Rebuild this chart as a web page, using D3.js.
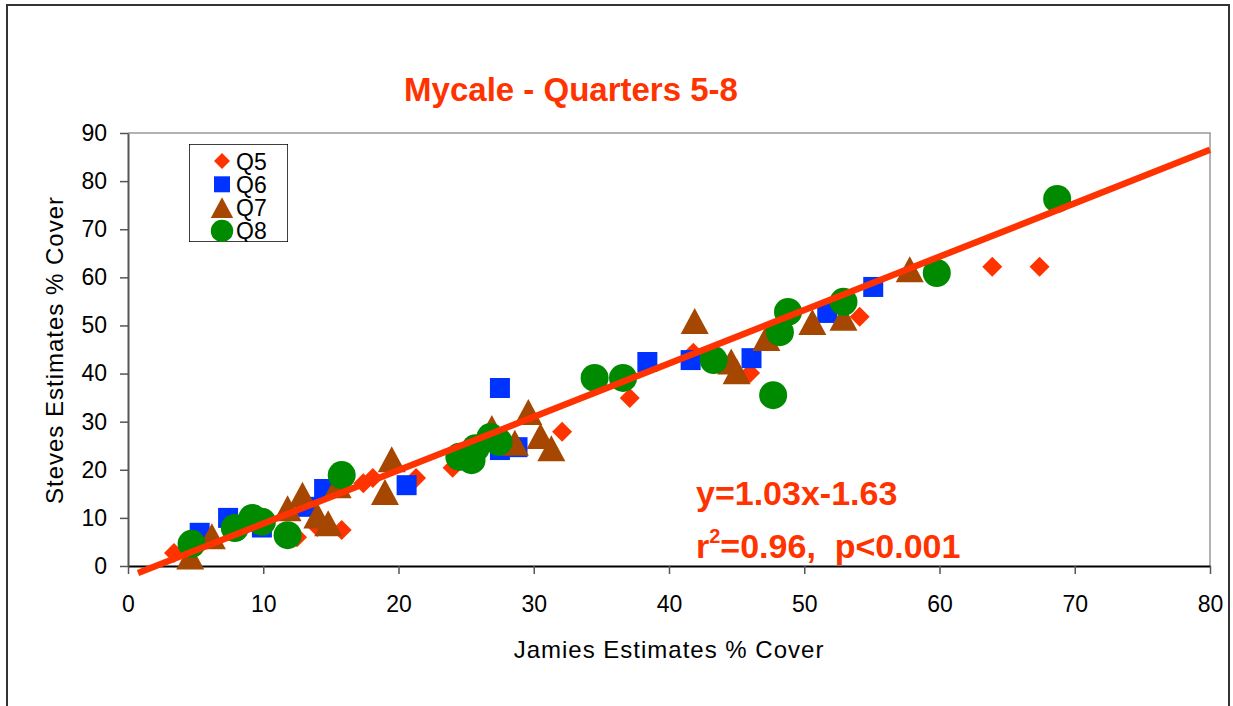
<!DOCTYPE html>
<html lang="en">
<head>
<meta charset="UTF-8">
<script src="https://cdn.jsdelivr.net/npm/d3@7/dist/d3.min.js"></script>
<style>
  body { margin: 0; background: #fff; }
  text { font-family: "Liberation Sans", Arial, sans-serif; }
</style>
</head>
<body>
<svg id="chart" width="1233" height="706"></svg>
<script>
// series (Jamies x, Steves y)
const q5X = [3.4, 12.5, 14.0, 15.8, 17.4, 18.1, 21.3, 24.0, 32.1, 37.1, 41.8, 46.0, 54.1, 63.9, 67.4];
const q5Y = [2.7, 6.0, 8.1, 7.5, 17.2, 18.3, 18.3, 20.4, 27.9, 34.9, 44.3, 40.1, 51.8, 62.2, 62.2];

const q6X = [5.3, 7.4, 9.9, 13.2, 14.5, 20.6, 27.5, 27.5, 28.8, 38.4, 41.6, 46.1, 51.7, 55.1];
const q6Y = [6.9, 10.0, 8.0, 12.3, 16.0, 16.8, 37.0, 24.1, 24.7, 42.4, 42.8, 43.2, 52.6, 58.0];

const q7X = [4.6, 6.2, 11.8, 12.9, 14.0, 14.8, 15.5, 19.0, 19.5, 26.9, 28.6, 29.6, 30.5, 31.3, 41.9, 44.6, 45.0, 47.2, 50.6, 52.9, 57.8];
const q7Y = [2.0, 6.2, 12.0, 14.8, 10.5, 8.9, 16.8, 15.4, 22.2, 28.7, 25.6, 32.0, 27.0, 24.5, 50.9, 42.5, 40.5, 47.4, 50.7, 51.6, 61.7];

const q8X = [4.7, 7.9, 9.2, 9.9, 11.8, 15.8, 24.5, 25.4, 25.7, 26.8, 27.4, 34.5, 36.6, 43.3, 47.7, 48.2, 48.8, 52.9, 59.8, 68.7];
const q8Y = [4.6, 7.9, 10.0, 9.2, 6.4, 18.9, 22.7, 22.0, 24.5, 26.8, 25.8, 39.1, 39.1, 42.8, 35.5, 48.6, 52.8, 54.9, 60.9, 76.3];

// fitted line as drawn
const fitX = [0.74, 80];
const fitY = [-1.46, 86.5];

const xTicks = [0, 10, 20, 30, 40, 50, 60, 70, 80];
const yTicks = [0, 10, 20, 30, 40, 50, 60, 70, 80, 90];
const seriesNames = ["Q5", "Q6", "Q7", "Q8"];

const svg = d3.select("#chart");

const x = d3.scaleLinear().domain([0, 80]).range([128, 1210]);
const y = d3.scaleLinear().domain([0, 90]).range([566, 133]);

// marker shapes, centred on 0,0
const shapes = {
  Q5: { fill: "#ff3300", path: "M0,-10L10,0L0,10L-10,0Z" },
  Q6: { fill: "#0033ff", path: "M-10,-10H10V10H-10Z" },
  Q7: { fill: "#a54700", path: "M0,-13L14,13H-14Z" },
  Q8: { fill: "#008a00", path: "" }
};
let c = d3.path(); c.arc(0, 0, 14, 0, 2 * Math.PI); shapes.Q8.path = c.toString();

// outer frame
svg.append("rect")
  .attr("x", 7).attr("y", 5).attr("width", 1222).attr("height", 720)
  .attr("fill", "none").attr("stroke", "#333").attr("stroke-width", 2);

// plot area border (top / right)
svg.append("path")
  .attr("d", `M${x(0)},${y(90)}H${x(80)}V${y(0)}`)
  .attr("fill", "none").attr("stroke", "#999").attr("stroke-width", 1.5);

// axes
const xAxis = svg.append("g")
  .attr("transform", `translate(0,${y(0)})`)
  .call(d3.axisBottom(x).tickValues(xTicks).tickSize(8).tickSizeOuter(0).tickPadding(22));
xAxis.select(".domain").attr("stroke", "#000").attr("stroke-width", 2);
xAxis.selectAll(".tick line").attr("stroke", "#555").attr("stroke-width", 1.5);
xAxis.selectAll("text").attr("font-size", 23).attr("fill", "#000")
  .style("font-family", '"Liberation Sans", Arial, sans-serif');

const yAxis = svg.append("g")
  .attr("transform", `translate(${x(0)},0)`)
  .call(d3.axisLeft(y).tickValues(yTicks).tickSize(8).tickSizeOuter(0).tickPadding(13));
yAxis.select(".domain").attr("stroke", "#555").attr("stroke-width", 2);
yAxis.selectAll(".tick line").attr("stroke", "#555").attr("stroke-width", 1.5);
yAxis.selectAll("text").attr("font-size", 23).attr("fill", "#000")
  .style("font-family", '"Liberation Sans", Arial, sans-serif');

// points
const series = [[q5X, q5Y], [q6X, q6Y], [q7X, q7Y], [q8X, q8Y]];
series.forEach(([xs, ys], i) => {
  const s = shapes[seriesNames[i]];
  svg.append("g").selectAll("path")
    .data(xs.map((v, j) => [v, ys[j]]))
    .join("path")
    .attr("d", s.path)
    .attr("fill", s.fill)
    .attr("transform", d => `translate(${x(d[0])},${y(d[1])})`);
});

// fit line
svg.append("line")
  .attr("x1", x(fitX[0])).attr("y1", y(fitY[0]))
  .attr("x2", x(fitX[1])).attr("y2", y(fitY[1]))
  .attr("stroke", "#ff3300").attr("stroke-width", 6.5);

// legend (last entry is cut off by the box, like the original)
svg.append("clipPath").attr("id", "legclip")
  .append("rect").attr("x", 189).attr("y", 144).attr("width", 99).attr("height", 98);
const leg = svg.append("g").attr("clip-path", "url(#legclip)");
leg.append("rect")
  .attr("x", 189).attr("y", 144).attr("width", 99).attr("height", 98)
  .attr("fill", "#fff").attr("stroke", "#000").attr("stroke-width", 1.5);
seriesNames.forEach((name, i) => {
  const cy = 161 + i * 23.3;
  leg.append("path")
    .attr("d", shapes[name].path)
    .attr("fill", shapes[name].fill)
    .attr("transform", `translate(222,${cy}) scale(0.8)`);
  leg.append("text")
    .attr("x", 236).attr("y", cy + 8.5)
    .attr("font-size", 23).text(name);
});

// title
svg.append("text")
  .attr("x", 571).attr("y", 101).attr("text-anchor", "middle")
  .attr("font-size", 33).attr("font-weight", "bold").attr("fill", "#ff3300")
  .text("Mycale - Quarters 5-8");

// axis titles
svg.append("text")
  .attr("x", 669).attr("y", 658).attr("text-anchor", "middle")
  .attr("font-size", 24).attr("letter-spacing", 1)
  .text("Jamies Estimates % Cover");
svg.append("text")
  .attr("transform", "translate(63,350) rotate(-90)")
  .attr("text-anchor", "middle")
  .attr("font-size", 24).attr("letter-spacing", 1)
  .text("Steves Estimates % Cover");

// equation
const eq = svg.append("g").attr("fill", "#ff3300").attr("font-weight", "bold").attr("font-size", 34);
eq.append("text").attr("x", 696).attr("y", 505).text("y=1.03x-1.63");
const r2 = eq.append("text").attr("x", 696).attr("y", 558).attr("xml:space", "preserve");
r2.append("tspan").text("r");
r2.append("tspan").attr("font-size", 20).attr("dy", -15).text("2");
r2.append("tspan").attr("dy", 15).text("=0.96,  p<0.001");
</script>
</body>
</html>
